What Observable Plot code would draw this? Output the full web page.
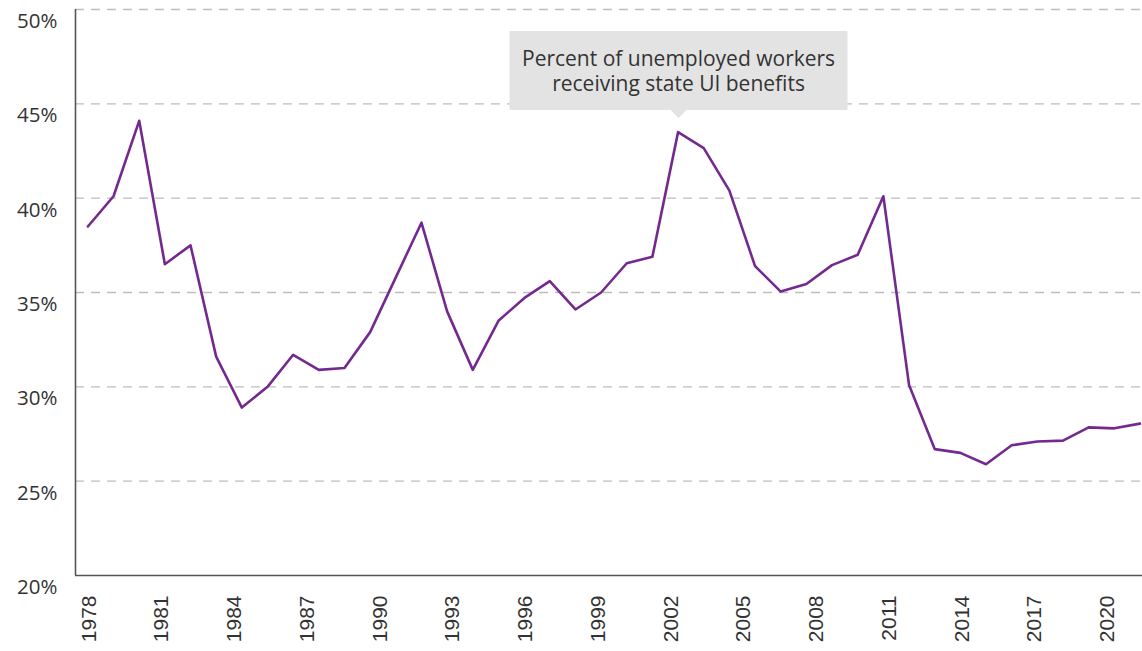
<!DOCTYPE html>
<html><head><meta charset="utf-8">
<script src="https://cdn.jsdelivr.net/npm/d3@7"></script>
<script src="https://cdn.jsdelivr.net/npm/@observablehq/plot@0.6"></script>
<style>html,body{margin:0;padding:0;background:#fff;} #chart svg{display:block}</style>
</head><body><div id="chart"></div>
<script>
// Percent of unemployed workers receiving state UI benefits (42 plotted values, left to right)
const recipiency = [38.5, 40.1, 44.1, 36.5, 37.5, 31.6, 28.9, 30.0, 31.7, 30.9, 31.0,
  32.9, 35.8, 38.7, 34.0, 30.9, 33.5, 34.7, 35.6, 34.1, 35.0, 36.55, 36.9,
  43.5, 42.65, 40.4, 36.4, 35.05, 35.45, 36.45, 37.0, 40.1,
  30.1, 26.7, 26.5, 25.9, 26.9, 27.1, 27.15, 27.85, 27.8, 28.05];
const xTicks = [1978, 1981, 1984, 1987, 1990, 1993, 1996, 1999, 2002, 2005, 2008, 2011, 2014, 2017, 2020];
const yTicks = [20, 25, 30, 35, 40, 45, 50];
const gridTicks = [25, 30, 35, 40, 45, 50];
const calloutText = "Percent of unemployed workers\nreceiving state UI benefits";
const calloutIndex = 23;

// the plotted points are spread evenly across the axis
const xFirst = 1977.96, xStep = 1.0582;
const points = recipiency.map((v, i) => ({x: xFirst + i * xStep, v}));
const callout = [{x: points[calloutIndex].x, v: points[calloutIndex].v, label: calloutText}];

const plot = Plot.plot({
  width: 1142, height: 651,
  marginLeft: 75, marginRight: 0, marginTop: 9, marginBottom: 76,
  x: {domain: [1977.45, 2021.45]},
  y: {domain: [20, 50]},
  style: {fontFamily: "'Open Sans', sans-serif", color: "#333", background: "#fff", overflow: "visible"},
  marks: [
    Plot.gridY(gridTicks, {stroke: "#bdbdbd", strokeOpacity: 1, strokeWidth: 1.3, strokeDasharray: "9,7"}),
    Plot.ruleY([20], {stroke: "#555", strokeWidth: 1.6}),
    Plot.ruleX([1977.45], {stroke: "#555", strokeWidth: 1.6}),
    Plot.axisY(yTicks, {tickSize: 0, tickPadding: 18, dy: 12, fontSize: 20.5, tickFormat: d => d + "%", label: null}),
    Plot.axisX(xTicks, {tickSize: 0, tickPadding: 20, tickRotate: -90, fontSize: 21,
      fontFamily: "'Liberation Sans', Arial, sans-serif", tickFormat: d => String(d), label: null}),
    Plot.line(points, {x: "x", y: "v", stroke: "#74298f", strokeWidth: 2.6}),
    Plot.tip(callout, {x: "x", y: "v", title: "label", anchor: "bottom", fill: "#e3e3e3", stroke: "#e3e3e3",
      pathFilter: "none", textAnchor: "middle", fontSize: 21, lineHeight: 1.22, textPadding: 12,
      pointerSize: 16, dy: -15, lineWidth: 40})
  ]
});
document.getElementById("chart").appendChild(plot);
</script>
</body></html>
